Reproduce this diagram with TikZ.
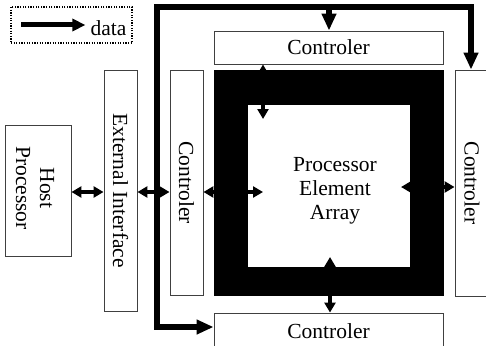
\documentclass[tikz,border=0pt]{standalone}
\usepackage{fontspec}
\setmainfont{Liberation Serif}
\usetikzlibrary{arrows.meta}

\begin{document}
\begin{tikzpicture}[x=1pt,y=-1pt,
    font=\fontsize{21.5}{24}\selectfont,
    box/.style={draw=black!75,line width=0.9pt,fill=white,inner sep=0pt},
    txt/.style={inner sep=0pt,align=center},
    dbl/.style={line width=4pt,{Triangle[length=10pt,width=11pt]}-{Triangle[length=10pt,width=11pt]}},
    bus/.style={line width=6pt,line join=miter,-{Triangle[length=17pt,width=14pt]}}]

    \useasboundingbox (0,0) rectangle (486,345);
    \clip (0,0) rectangle (486,345);

    % legend
    \node[draw,line width=1.2pt,dash pattern=on 1.2pt off 1.4pt,minimum width=121,minimum height=36,inner sep=0pt] (legend) at (71.5,25) {};
    \node[txt] (data) at (108.5,28.5) {data};
    \draw[line width=5pt,-{Triangle[length=13pt,width=12pt]}] ([xshift=11]legend.west) -- ([xshift=-5]data.west |- legend.west);

    % blocks
    \node[box,minimum width=66,minimum height=131] (host) at (38,190.5) {};
    \node[txt,rotate=-90] at (35,188) {Host\\Processor};
    \node[box,minimum width=33,minimum height=241] (ext) at (120.5,190.5) {};
    \node[txt,rotate=-90] at (ext) {External Interface};
    \node[box,minimum width=33,minimum height=225] (ctlL) at (186.5,182.5) {};
    \node[txt,rotate=-90] at (ctlL) {Controler};
    \node[box,minimum width=229,minimum height=33] (ctlT) at (328.5,47.5) {};
    \node[txt] at (ctlT) {Controler};
    \node[box,minimum width=34,minimum height=226] (ctlR) at (472,183) {};
    \node[txt,rotate=-90] at (ctlR) {Controler};
    \node[box,minimum width=229,minimum height=40] (ctlB) at (328.5,333) {};
    \node[txt] at (328.5,331) {Controler};

    % processor element array
    \node[fill=black,minimum width=230,minimum height=226,inner sep=0pt] (pea) at (329,183) {};
    \node[fill=white,minimum width=162,minimum height=162,inner sep=0pt] (pe) at (329,186) {};
    \node[txt] at ([xshift=6pt,yshift=-5pt]pe.center) {Processor\\Element\\Array};

    % data links
    \coordinate (row) at (0,192);
    \coordinate (tl) at (263,119);
    \coordinate (rt) at (401,187);
    \coordinate (bt) at (330,257);
    \draw[dbl] (host.east |- row) -- (ext.west |- row); % host <-> interface
    \draw[dbl] (ext.east |- row) -- (ctlL.west |- row); % interface <-> controler
    \draw[dbl] (ctlL.east |- row) -- (263,192); % controler <-> array
    \draw[dbl] (tl |- ctlT.south) -- (tl); % top controler <-> array
    \draw[dbl] (rt) -- (rt -| ctlR.west); % array <-> right controler
    \draw[dbl] (bt) -- (bt |- ctlB.north); % array <-> bottom controler

    % bus
    \coordinate (busA) at (157,327);
    \coordinate (busB) at (157,7);
    \coordinate (busC) at (471,7);
    \coordinate (busT) at (329,7);
    \draw[bus,{Triangle[length=17pt,width=14pt]}-{Triangle[length=17pt,width=14pt]}] (busC |- ctlR.north) -- (busC) -- (busB) -- (busA) -- (busA -| ctlB.west);
    \draw[bus] (busT) -- (busT |- ctlT.north);

\end{tikzpicture}
\end{document}
